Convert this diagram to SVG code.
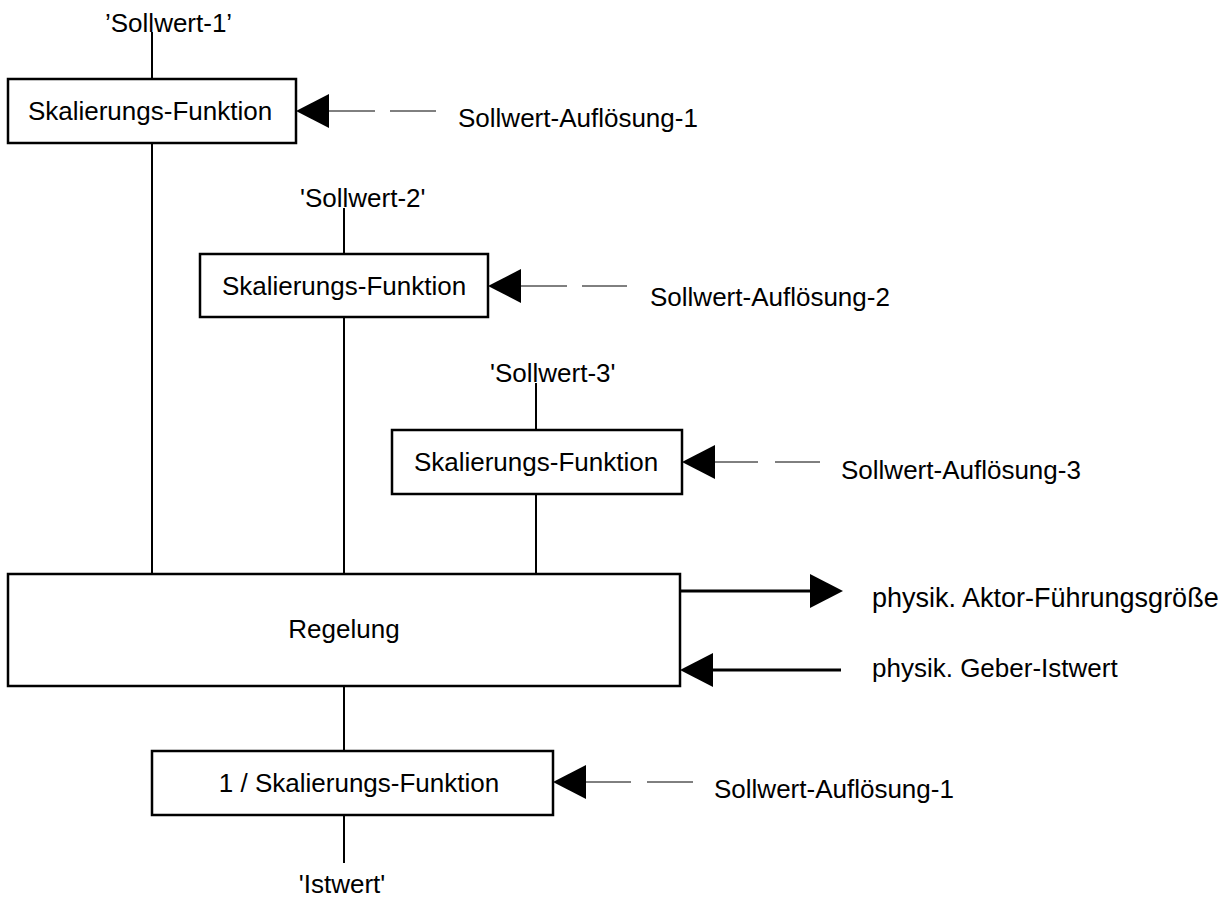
<svg xmlns="http://www.w3.org/2000/svg" xmlns:xlink="http://www.w3.org/1999/xlink" width="1229" height="903" viewBox="0 0 1229 903">
  <style>
    text { font-family: "Liberation Sans", Arial, sans-serif; font-size: 26px; fill: #000; }
    .mid { text-anchor: middle; }
    .big { font-size: 27px; }
    .box { fill: #fff; stroke: #000; stroke-width: 2.5; }
    .wire { stroke: #000; stroke-width: 2; fill: none; }
    .thick { stroke: #000; stroke-width: 3; fill: none; }
    .thin { stroke: #000; stroke-width: 1; fill: none; }
    .head { fill: #000; stroke: none; }
  </style>
  <defs>
    <!-- filled arrowhead, tip at origin pointing left -->
    <path id="head" class="head" d="M0,0 L33,-17 L33,17 Z"/>
  </defs>

  <rect width="1229" height="903" fill="#fff"/>

  <!-- connectors -->
  <g id="connectors">
    <!-- signal paths -->
    <line class="wire" x1="152" y1="32" x2="152" y2="574"/>
    <line class="wire" x1="344" y1="208" x2="344" y2="574"/>
    <line class="wire" x1="536" y1="383" x2="536" y2="574"/>
    <line class="wire" x1="344" y1="686" x2="344" y2="863"/>

    <!-- resolution inputs -->
    <line class="thin" x1="329" y1="111" x2="375" y2="111"/>
    <line class="thin" x1="390" y1="111" x2="436" y2="111"/>
    <use xlink:href="#head" x="296" y="111"/>

    <line class="thin" x1="521" y1="286" x2="567" y2="286"/>
    <line class="thin" x1="582" y1="286" x2="627" y2="286"/>
    <use xlink:href="#head" x="488" y="286"/>

    <line class="thin" x1="714" y1="462" x2="758" y2="462"/>
    <line class="thin" x1="775" y1="462" x2="820" y2="462"/>
    <use xlink:href="#head" x="682" y="462"/>

    <line class="thin" x1="586" y1="782" x2="631" y2="782"/>
    <line class="thin" x1="647" y1="782" x2="693" y2="782"/>
    <use xlink:href="#head" x="553" y="782"/>

    <!-- actuator output / encoder input -->
    <line class="thick" x1="680" y1="591" x2="810" y2="591"/>
    <use xlink:href="#head" transform="translate(843,591) scale(-1,1)"/>

    <line class="thick" x1="713" y1="670" x2="841" y2="670"/>
    <use xlink:href="#head" x="680" y="670"/>
  </g>

  <!-- scaling block 1 -->
  <g id="scale1">
    <rect class="box" x="8" y="79" width="288" height="64"/>
    <text class="mid" x="150" y="120">Skalierungs-Funktion</text>
  </g>

  <!-- scaling block 2 -->
  <g id="scale2">
    <rect class="box" x="200" y="254" width="288" height="63"/>
    <text class="mid" x="344" y="295">Skalierungs-Funktion</text>
  </g>

  <!-- scaling block 3 -->
  <g id="scale3">
    <rect class="box" x="392" y="430" width="290" height="64"/>
    <text class="mid" x="536" y="471">Skalierungs-Funktion</text>
  </g>

  <!-- controller -->
  <g id="regelung">
    <rect class="box" x="8" y="574" width="672" height="112"/>
    <text class="mid" x="344" y="638">Regelung</text>
  </g>

  <!-- inverse scaling -->
  <g id="inverse">
    <rect class="box" x="152" y="751" width="401" height="64"/>
    <text class="mid" x="359" y="792">1 / Skalierungs-Funktion</text>
  </g>

  <!-- signal names -->
  <g id="labels">
    <text x="105" y="32">’Sollwert-1’</text>
    <text x="300" y="207">'Sollwert-2'</text>
    <text x="490" y="382">'Sollwert-3'</text>
    <text class="mid" x="342" y="893">'Istwert'</text>

    <text x="458" y="127">Sollwert-Auflösung-1</text>
    <text x="650" y="306">Sollwert-Auflösung-2</text>
    <text x="841" y="479">Sollwert-Auflösung-3</text>
    <text x="714" y="798">Sollwert-Auflösung-1</text>

    <text class="big" x="872" y="607">physik. Aktor-Führungsgröße</text>
    <text x="872" y="677">physik. Geber-Istwert</text>
  </g>
</svg>
